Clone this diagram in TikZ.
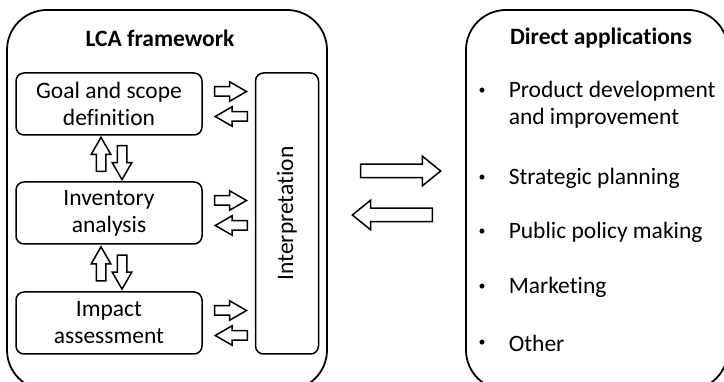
\documentclass[tikz,border=0pt]{standalone}
\usepackage{fontspec}
\setmainfont{Carlito}[Ligatures=NoCommon]
\usetikzlibrary{shapes.arrows,positioning,calc}

\begin{document}
\begin{tikzpicture}
    [x=1pt,y=1pt,line width=1.5pt,
        font=\fontsize{23.5}{27}\selectfont,
        frame/.style={draw,rounded corners=40pt,minimum width=320pt,minimum height=380pt,line width=1.8pt},
        stage/.style={draw,rounded corners=8pt,minimum width=186pt,minimum height=62pt,align=center,inner sep=0pt},
        title/.style={font=\fontsize{23.5}{27}\selectfont\bfseries},
        item/.style={anchor=west,align=left,inner sep=0pt},
        bul/.style={inner sep=0pt,font=\fontsize{14}{14}\selectfont},
        small arr/.style={single arrow,draw,inner xsep=0pt,inner ysep=4pt,minimum height=32pt,
            single arrow head extend=5pt,single arrow tip angle=60},
        vert arr/.style={small arr,inner xsep=4pt,inner ysep=0pt,minimum height=34pt},
        big arr/.style={single arrow,draw,inner xsep=0pt,inner ysep=6pt,minimum height=80pt,
            single arrow head extend=8pt,single arrow tip angle=78}]

    \clip (0,0) rectangle (724,382);

    % the two frames
    \node[frame] (lca) at (167,182) {};
    \node[frame,minimum width=262pt] (apps) at (597,182) {};
    \node[title] (lcat) at (160,344) {LCA framework};
    \node[title] (appst) at (601,344) {Direct applications};

    % phases
    \node[stage] (goal) at (109,278) {Goal and scope\\definition};
    \node[stage] (inv) at (109,169) {Inventory\\analysis};
    \node[stage] (imp) at (109,59) {Impact\\assessment};
    \node[draw,rounded corners=8pt,rotate=90,minimum width=281pt,minimum height=63pt,inner sep=0pt]
        (interp) at (287,168.5) {Interpretation};

    % arrows to and from interpretation
    \foreach \s in {goal,inv,imp} {
        \node[small arr,right=11pt of \s.east,yshift=12.5pt] (\s r) {};
        \node[small arr,shape border rotate=180,right=11pt of \s.east,yshift=-12.5pt] (\s l) {};
    }

    % arrows between phases
    \node[vert arr,shape border rotate=90] (gu)
        at ($(goal.south)!0.5!(inv.north)+(-8,0)$) {};
    \node[vert arr,shape border rotate=270] (gd)
        at ($(goal.south)!0.5!(inv.north)+(13,0)$) {};
    \node[vert arr,shape border rotate=90] (iu)
        at ($(inv.south)!0.5!(imp.north)+(-8,0)$) {};
    \node[vert arr,shape border rotate=270] (id)
        at ($(inv.south)!0.5!(imp.north)+(13,0)$) {};

    % between the frames
    \node[big arr] (to) at ($(lca.east)!0.5!(apps.west)+(0,29)$) {};
    \node[big arr,shape border rotate=180] (from) at ($(lca.east)!0.5!(apps.west)+(0,-15)$) {};

    % applications
    \node[item] (a1) at (508,277.5) {Product development\\and improvement};
    \node[item] (a2) at (508,204) {Strategic planning};
    \node[item] (a3) at (508,150) {Public policy making};
    \node[item] (a4) at (508,95) {Marketing};
    \node[item] (a5) at (508,39) {Other};
    \foreach \y in {291,204,150,95,39}
        \node[bul] at (482,\y) {•};
\end{tikzpicture}
\end{document}
